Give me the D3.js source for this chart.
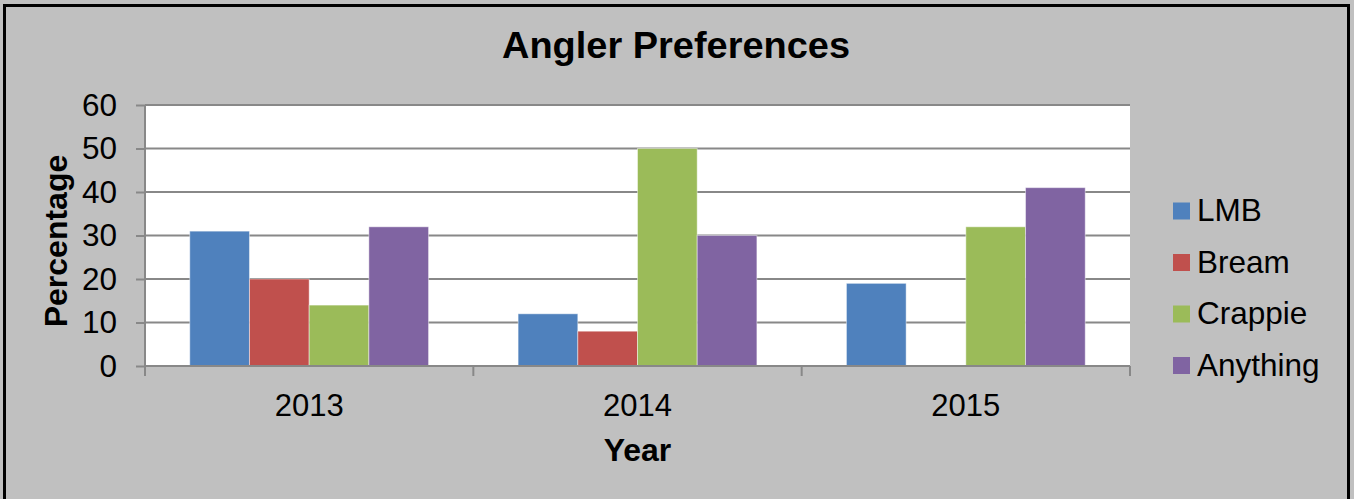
<!DOCTYPE html>
<html><head><meta charset="utf-8">
<script src="https://cdn.jsdelivr.net/npm/d3@7"></script>
<style>body{margin:0;background:#c0c0c0;}svg{display:block;font-family:"Liberation Sans",Arial,sans-serif;}</style>
</head><body>
<svg id="c" width="1354" height="499"></svg>
<script>
const years = ["2013","2014","2015"];
const seriesNames = ["LMB","Bream","Crappie","Anything"];
const colors = ["#4F81BD","#C0504D","#9BBB59","#8064A2"];
const LMB = [31,12,19];
const Bream = [20,8,0];
const Crappie = [14,50,32];
const Anything = [32,30,41];
const yTicks = [0,10,20,30,40,50,60];
const values = [LMB,Bream,Crappie,Anything];

const svg = d3.select("#c");
svg.append("rect").attr("x",0).attr("y",0).attr("width",1354).attr("height",499).attr("fill","#c0c0c0");
// border
svg.append("path").attr("d","M4.5,499 L4.5,5.5 L1348.5,5.5 L1348.5,499").attr("fill","none").attr("stroke","#000").attr("stroke-width",3);

const L=145, R=1130, T=105, B=366;
const x0 = d3.scaleBand().domain(years).range([L,R]).paddingInner(0).paddingOuter(0);
const x1 = d3.scaleBand().domain(seriesNames).range([0,x0.bandwidth()]).paddingOuter(0.75).paddingInner(0);
const y = d3.scaleLinear().domain([0,60]).range([B,T]);

svg.append("rect").attr("x",L).attr("y",T).attr("width",R-L).attr("height",B-T).attr("fill","#fff");

// gridlines
svg.append("g").selectAll("line").data(yTicks.filter(d=>d>0)).join("line")
  .attr("x1",L).attr("x2",R).attr("y1",d=>y(d)).attr("y2",d=>y(d))
  .attr("stroke","#888").attr("stroke-width",2);

// bars
const g = svg.append("g");
years.forEach((yr,i)=>{
  seriesNames.forEach((s,j)=>{
    const v = values[j][i];
    if(v<=0) return;
    g.append("rect").attr("x",x0(yr)+x1(s)).attr("y",y(v)).attr("width",x1.bandwidth()).attr("height",y(0)-y(v))
      .attr("fill",colors[j]).attr("stroke","rgba(255,255,255,0.45)").attr("stroke-width",1);
  });
});

// y axis
const yAxis = d3.axisLeft(y).tickValues(yTicks).tickSize(9).tickSizeOuter(0).tickPadding(19);
const ya = svg.append("g").attr("transform",`translate(${L},0)`).call(yAxis);
ya.select(".domain").remove();
ya.selectAll("line").attr("stroke","#888").attr("stroke-width",2);
ya.selectAll("text").attr("font-size",31.5).attr("fill","#000").attr("font-family","Liberation Sans, Arial, sans-serif");
svg.append("line").attr("x1",L).attr("x2",L).attr("y1",T).attr("y2",B+10).attr("stroke","#888").attr("stroke-width",2);

// x axis
svg.append("line").attr("x1",L).attr("x2",R).attr("y1",B).attr("y2",B).attr("stroke","#888").attr("stroke-width",2);
const bounds = years.map(yr=>x0(yr)).concat([R]);
svg.append("g").selectAll("line").data(bounds).join("line")
  .attr("x1",d=>d).attr("x2",d=>d).attr("y1",B).attr("y2",B+10).attr("stroke","#888").attr("stroke-width",2);
svg.append("g").selectAll("text").data(years).join("text")
  .attr("x",d=>x0(d)+x0.bandwidth()/2).attr("y",416).attr("text-anchor","middle")
  .attr("font-size",31).attr("fill","#000").text(d=>d);

// titles
svg.append("text").attr("x",676).attr("y",58).attr("text-anchor","middle").attr("font-size",36).attr("font-weight","bold")
  .attr("textLength",348).attr("lengthAdjust","spacingAndGlyphs").text("Angler Preferences");
svg.append("text").attr("x",637.5).attr("y",461).attr("text-anchor","middle").attr("font-size",32).attr("font-weight","bold").text("Year");
svg.append("text").attr("transform","translate(67,241) rotate(-90)").attr("text-anchor","middle").attr("font-size",32).attr("font-weight","bold").text("Percentage");

// legend
const lg = svg.append("g");
seriesNames.forEach((s,j)=>{
  const base = 221 + j*51.5;
  lg.append("rect").attr("x",1173).attr("y",base-18.5).attr("width",17).attr("height",17).attr("fill",colors[j]);
  lg.append("text").attr("x",1197).attr("y",base).attr("font-size",31.5).attr("fill","#000").text(s);
});
</script>
</body></html>
